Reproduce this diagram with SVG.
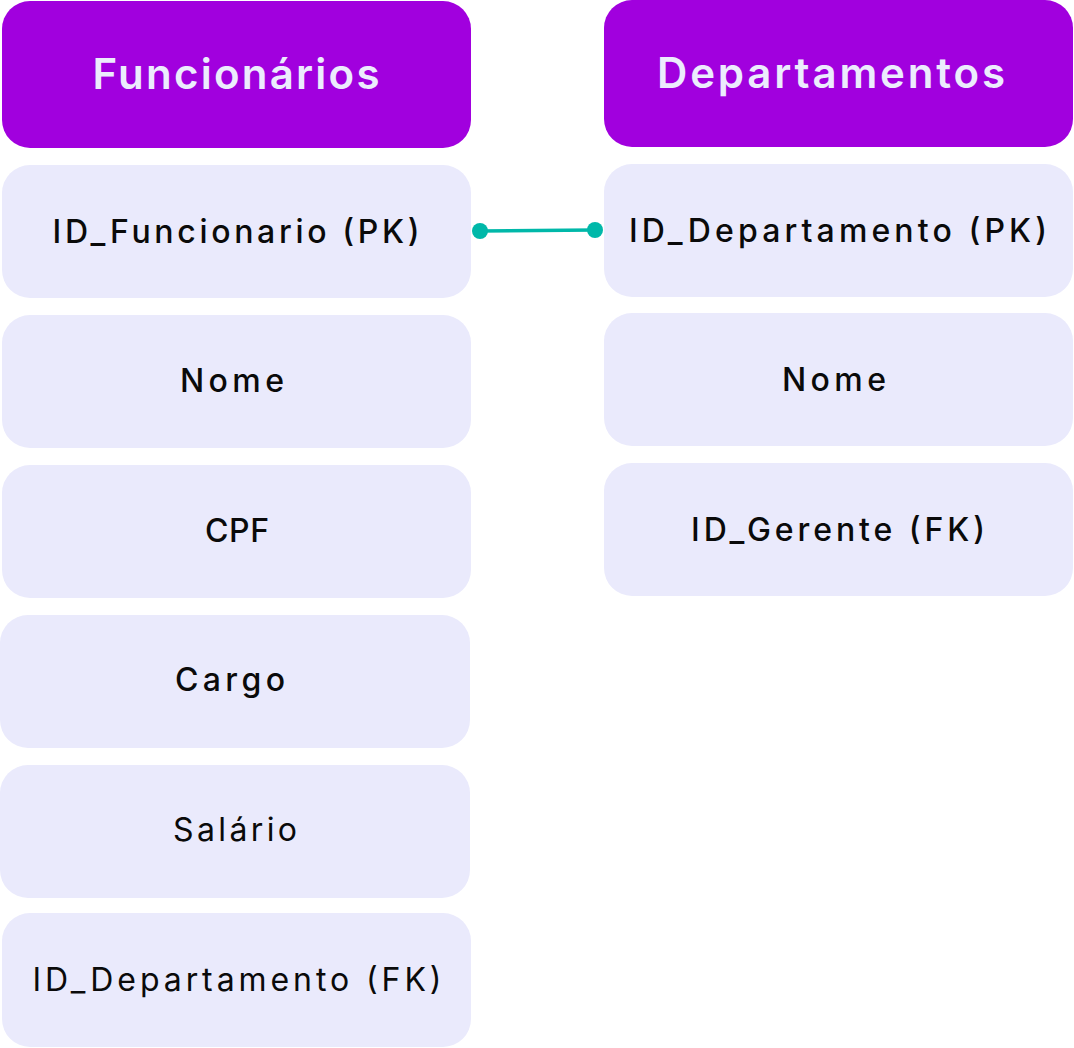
<svg xmlns="http://www.w3.org/2000/svg" width="1074" height="1048" viewBox="0 0 1074 1048">
<style>
.hdr{fill:#A100DE}
.row{fill:#EAEAFC}
.ht{font-family:Inter,"Noto Sans",sans-serif;font-weight:600;font-size:42px;fill:#ECECFD;text-anchor:middle}
.rt{font-family:Inter,"Noto Sans",sans-serif;font-weight:500;font-size:32px;fill:#0A0A0A;text-anchor:middle}
.rl{font-weight:400}
.conn{stroke:#00B8A9;stroke-width:3.5;fill:none}
.dot{fill:#00B8A9}
</style>
<rect width="1074" height="1048" fill="#FFFFFF"/>
<g id="funcionarios-header"><rect class="hdr" x="2" y="1" width="469" height="147" rx="28"/><text class="ht" x="236" y="89" textLength="287" lengthAdjust="spacing">Funcionários</text></g>
<g id="f-id"><rect class="row" x="2" y="165" width="469" height="133" rx="28"/><text class="rt" x="236" y="243" textLength="367" lengthAdjust="spacing">ID_Funcionario (PK)</text></g>
<g id="f-nome"><rect class="row" x="2" y="315" width="469" height="133" rx="28"/><text class="rt" x="232" y="392" textLength="104" lengthAdjust="spacing">Nome</text></g>
<g id="f-cpf"><rect class="row" x="2" y="465" width="469" height="133" rx="28"/><text class="rt" x="237" y="542" textLength="64" lengthAdjust="spacing">CPF</text></g>
<g id="f-cargo"><rect class="row" x="0" y="615" width="470" height="133" rx="28"/><text class="rt" x="230" y="691" textLength="110" lengthAdjust="spacing">Cargo</text></g>
<g id="f-salario"><rect class="row" x="0" y="765" width="470" height="133" rx="28"/><text class="rt rl" x="235" y="841" textLength="124" lengthAdjust="spacing">Salário</text></g>
<g id="f-iddep"><rect class="row" x="2" y="913" width="469" height="134" rx="28"/><text class="rt rl" x="237" y="991" textLength="409" lengthAdjust="spacing">ID_Departamento (FK)</text></g>
<g id="departamentos-header"><rect class="hdr" x="604" y="0" width="469" height="147" rx="28"/><text class="ht" x="831" y="88" textLength="348" lengthAdjust="spacing">Departamentos</text></g>
<g id="d-id"><rect class="row" x="604" y="164" width="469" height="133" rx="28"/><text class="rt" x="838" y="242" textLength="418" lengthAdjust="spacing">ID_Departamento (PK)</text></g>
<g id="d-nome"><rect class="row" x="604" y="313" width="469" height="133" rx="28"/><text class="rt" x="834" y="391" textLength="104" lengthAdjust="spacing">Nome</text></g>
<g id="d-idger"><rect class="row" x="604" y="463" width="469" height="133" rx="28"/><text class="rt" x="838" y="541" textLength="294" lengthAdjust="spacing">ID_Gerente (FK)</text></g>
<g id="connectors">
<line class="conn" x1="480" y1="231" x2="595" y2="230"/>
<circle class="dot" cx="480" cy="231" r="8"/>
<circle class="dot" cx="595" cy="230" r="8"/>
</g>
</svg>
